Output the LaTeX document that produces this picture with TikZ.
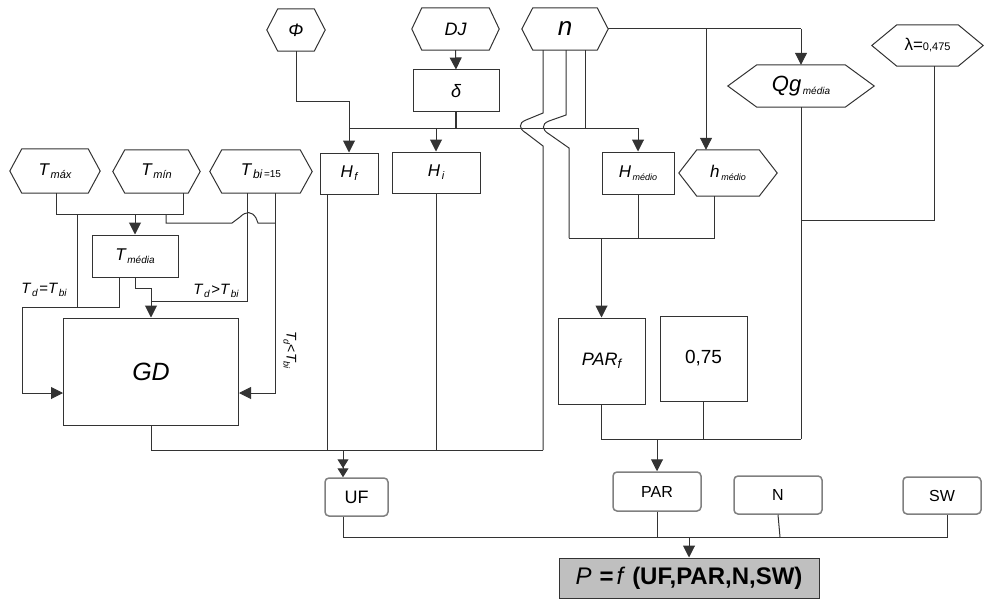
\documentclass[tikz,border=0pt]{standalone}
\usepackage{fontspec}
\setmainfont{Liberation Sans}
\usetikzlibrary{arrows.meta}
\newcommand{\fsz}[1]{\fontsize{#1}{#1}\selectfont}
\newcommand{\lowr}[2]{\raisebox{-#1}{#2}}
\tikzset{
  ln/.style={line width=1pt, draw=black!80},
  arr/.style={ln, -{Triangle[length=12pt,width=12pt]}},
  darr/.style={ln, -{Triangle[length=9pt,width=11pt] Triangle[length=9pt,width=11pt]}},
  box/.style={draw=black!80, line width=1pt, inner sep=0pt, fill=white},
  rbox/.style={draw=black!50, line width=1.5pt, rounded corners=4pt, inner sep=0pt, fill=white},
  hexbox/.style={inner sep=0pt, draw=none},
  lbl/.style={inner sep=1pt}
}
\newcommand{\hexnode}[7]{%
  \node[hexbox, minimum width=#4pt, minimum height=#5pt] (#1) at (#2,#3) {#7};
  \draw[ln] (#1.west) -- ([xshift=#6pt]#1.north west) -- ([xshift=-#6pt]#1.north east) -- (#1.east) -- ([xshift=-#6pt]#1.south east) -- ([xshift=#6pt]#1.south west) -- cycle;}
\begin{document}
\begin{tikzpicture}[x=1pt,y=-1pt]
\useasboundingbox (0,0) rectangle (984,599);

% ---------- hexagons
\hexnode{phi}{296}{30}{58}{42}{11}{\fsz{18}\itshape Φ}
\hexnode{dj}{455.5}{29}{87}{42}{10}{\fsz{18}\itshape DJ}
\hexnode{n}{565}{29}{86}{42}{11}{\fsz{26}\itshape n}
\hexnode{qg}{801}{86}{146}{42}{29}{{\fsz{22}\itshape Qg}\,\lowr{3pt}{\fsz{10}\itshape média}}
\hexnode{lam}{927.5}{45.5}{111}{41}{25}{{\fsz{17}λ=}{\fsz{11}0,475}}
\hexnode{hmed}{728}{173}{98}{46}{18}{{\fsz{17}\itshape h}\,\lowr{3pt}{\fsz{9}\itshape médio}}
\hexnode{tmax}{55}{171}{90}{44}{12}{{\fsz{17}\itshape T}\,\lowr{3pt}{\fsz{11}\itshape máx}}
\hexnode{tmin}{156.5}{171.5}{87}{43}{12}{{\fsz{17}\itshape T}\,\lowr{3pt}{\fsz{11}\itshape mín}}
\hexnode{tbi}{261}{171.5}{102}{43}{12}{{\fsz{17}\itshape T}\,\lowr{3pt}{\fsz{12}\itshape bi}\,\lowr{2pt}{\fsz{10}=15}}

% ---------- boxes
\node[box, minimum width=86pt, minimum height=42pt] (delta) at (456,91) {\fsz{18}\itshape δ};
\node[box, minimum width=58pt, minimum height=41pt] (hf) at (349,173.5) {{\fsz{17}\itshape H}\,\lowr{3pt}{\fsz{11}\itshape f}};
\node[box, minimum width=88pt, minimum height=41pt] (hi) at (436,172.5) {{\fsz{17}\itshape H}\,\lowr{3pt}{\fsz{11}\itshape i}};
\node[box, minimum width=72pt, minimum height=42pt] (hm) at (638,173) {{\fsz{17}\itshape H}\,\lowr{3pt}{\fsz{9}\itshape médio}};
\node[box, minimum width=86pt, minimum height=42pt] (tmed) at (135,256) {{\fsz{17}\itshape T}\,\lowr{3pt}{\fsz{10}\itshape média}};
\node[box, minimum width=175pt, minimum height=107pt] (gd) at (151,371.5) {\fsz{25}\itshape GD};
\node[box, minimum width=87pt, minimum height=86pt] (parf) at (601.5,361) {{\fsz{18}\itshape PAR}\lowr{3pt}{\fsz{13}\itshape f}};
\node[box, minimum width=87pt, minimum height=85pt] (c075) at (703.5,358.5) {\fsz{19}0,75};
\node[rbox, minimum width=63pt, minimum height=38pt] (uf) at (356.5,497) {\fsz{18}UF};
\node[rbox, minimum width=88pt, minimum height=39pt] (par) at (657,491.5) {\fsz{16}PAR};
\node[rbox, minimum width=88pt, minimum height=38pt] (nn) at (778,495) {\fsz{16}N};
\node[rbox, minimum width=78pt, minimum height=37pt] (sw) at (942,495.5) {\fsz{16}SW};
\node[draw=black!80, line width=1pt, fill=black!25, inner sep=0pt, minimum width=260pt, minimum height=40pt] (pbox) at (689,578)
  {{\fsz{24}\itshape P}\hspace{8pt}{\fsz{24}\bfseries =}\hspace{3pt}{\fsz{24}\itshape f}\hspace{9pt}{\fsz{24}\bfseries (UF,PAR,N,SW)}};

% ---------- labels
\node[lbl] (lblEq) at (44,290) {{\fsz{15}\itshape T}\,\lowr{3pt}{\fsz{10}\itshape d}\,{\fsz{15}=}{\fsz{15}\itshape T}\,\lowr{3pt}{\fsz{10}\itshape bi}};
\node[lbl] (lblGt) at (216,291) {{\fsz{15}\itshape T}\,\lowr{3pt}{\fsz{10}\itshape d}\,{\fsz{15}>}{\fsz{15}\itshape T}\,\lowr{3pt}{\fsz{10}\itshape bi}};
\node[lbl, rotate=-90] (lblLt) at (290,350) {{\fsz{14}\itshape T}\lowr{3pt}{\fsz{9}\itshape d}{\fsz{14}<}{\fsz{14}\itshape T}\lowr{3pt}{\fsz{9}\itshape bi}};

% ---------- top connectors
\coordinate (phiK) at (296,102);
\draw[arr] (phi.south) -- (phiK) -| (hf.north);
\draw[arr] (dj.south) -- (delta.north);
\coordinate (busL) at (349,128);
\coordinate (busR) at (638,128);
\draw[ln] (busL) -- (busR);
\draw[ln, line width=2.2pt] (delta.south) -- (delta.south |- busL);
\draw[arr] (hi.north |- busL) -- (hi.north);
\draw[arr] (busR) -- (hm.north);
\draw[ln] ([xshift=20pt]n.south) -- ([xshift=20pt]n.south |- busR);

% n lines with jumps
\coordinate (nL1) at (543,450);
\coordinate (mL) at (569,238);
\coordinate (mR) at (714,238);
\draw[ln] ([xshift=-22pt]n.south) -- (543,113) -- (526,120) .. controls (518,123) and (519,129) .. (526,133) -- (543,146) -- (nL1);
\draw[ln] ([xshift=1pt]n.south) -- (566,115) -- (549,121) .. controls (541,124) and (542,130) .. (549,134) -- (569,148) -- (mL);
\draw[ln] (hm.south) -- (hm.south |- mL);
\draw[ln] ([xshift=-14pt]hmed.south) -- (mR) -- (mL);
\draw[arr] (parf.north |- mL) -- (parf.north);

% n to the right
\coordinate (nQ) at (801,29);
\coordinate (nH) at (706,29);
\draw[ln] (n.east) -- (nQ);
\draw[arr] (nQ) -- (qg.north);
\draw[arr] (nH) -- (nH |- hmed.north);

% right column
\coordinate (rB) at (801,439);
\coordinate (lamK) at (934,220);
\draw[ln] (qg.south) -- (rB);
\draw[ln] ([xshift=6.5pt]lam.south) -- (lamK) -- (lamK -| qg.south);
\draw[ln] (parf.south) -- (parf.south |- rB) -- (rB);
\draw[ln] (c075.south) -- (c075.south |- rB);
\draw[arr] (par.north |- rB) -- (par.north);

% bottom-left bus
\coordinate (hfB) at ([xshift=-22pt]hf.south);
\coordinate (ufT) at ([xshift=-13.5pt]uf.north);
\coordinate (ufB) at ([xshift=-13.5pt]uf.south);
\draw[ln] (gd.south) -- (gd.south |- nL1) -- (nL1);
\draw[ln] (hfB) -- (hfB |- nL1);
\draw[ln] (hi.south) -- (hi.south |- nL1);
\draw[darr] (ufT |- nL1) -- (ufT);

% final bus
\coordinate (fbus) at (0,537);
\coordinate (swB) at ([xshift=5pt]sw.south);
\draw[ln] (ufB) -- (ufB |- fbus) -- (swB |- fbus) -- (swB);
\draw[ln] (par.south) -- (par.south |- fbus);
\draw[ln] (nn.south) -- (780,537);
\draw[arr] (pbox.north |- fbus) -- (pbox.north);

% left temperature block
\coordinate (tbus) at (0,214);
\coordinate (tmaxB) at ([xshift=1pt]tmax.south);
\coordinate (tminB) at ([xshift=26.5pt]tmin.south);
\draw[ln] (tmaxB) -- (tmaxB |- tbus) -- (tminB |- tbus) -- (tminB);
\draw[arr] (tmed.north |- tbus) -- (tmed.north);
\coordinate (eqJ) at (77,307);
\draw[ln] (eqJ |- tbus) -- (eqJ);
\coordinate (tmL) at ([xshift=-16pt]tmed.south);
\coordinate (gdIn) at (0,393);
\draw[arr] (tmL) -- (tmL |- eqJ) -- (22,307) -- (22,393) -- (gd.west |- gdIn);
\draw[arr] (tmed.south) -- (135,288) -- (151,288) -- (gd.north);
\coordinate (tbiL) at ([xshift=-14pt]tbi.south);
\coordinate (tbiR) at ([xshift=14pt]tbi.south);
\coordinate (gtJ) at (151,301);
\draw[ln] (tbiL) -- (tbiL |- gtJ) -- (gtJ);
\draw[arr] (tbiR) -- (tbiR |- gdIn) -- (gd.east |- gdIn);
\draw[ln] (166,214) -- (166,223) -- (232,223) -- (240,217) .. controls (246,211) and (252,211) .. (256,218) -- (258,223) -- (275,223);
\end{tikzpicture}
\end{document}
